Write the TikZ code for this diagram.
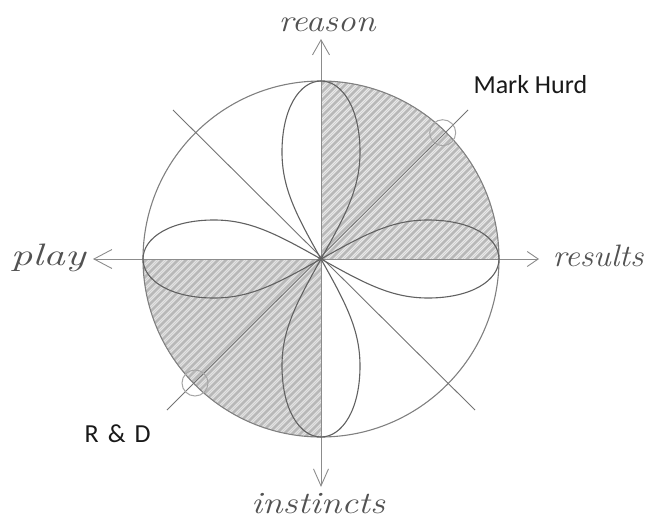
\documentclass[tikz,border=0pt]{standalone}
\usepackage{fontspec}
\newfontfamily\labelfont{Carlito}
\usetikzlibrary{arrows.meta}
\begin{document}
\begin{tikzpicture}[x=1pt,y=-1pt,
  ring/.style={draw=black!50,line width=1.1pt},
  axis/.style={draw=black!45,line width=0.9pt},
  diag/.style={draw=black!55,line width=0.9pt},
  petal/.style={draw=black!62,line width=1.1pt},
  marker/.style={draw=black!35,line width=1pt,circle,minimum size=26pt,inner sep=0pt},
  hand/.style={text=black!68,font=\fontsize{31}{33}\selectfont\itshape},
  tag/.style={text=black!90,font=\labelfont\fontsize{26}{28}\selectfont},
  hatchwide/.style={draw=black!28,line width=2.6pt},
  hatchthin/.style={draw=black!20,line width=0.7pt}]
\useasboundingbox (0,0) rectangle (649,522);
\coordinate (C) at (321,259);
\def\R{178}
% hatching, upper-right quadrant
\begin{scope}
  \clip (C) circle (\R);
  \clip (321,70) rectangle (510,259);
  \fill[black!8] (321,70) rectangle (510,259);
  \foreach \s in {398,406,...,770} \draw[hatchwide] (\s,0) -- (0,\s);
  \foreach \s in {402,410,...,770} \draw[hatchthin] (\s,0) -- (0,\s);
\end{scope}
% hatching, lower-left quadrant
\begin{scope}
  \clip (C) circle (\R);
  \clip (130,259) rectangle (321,450);
  \fill[black!10] (130,259) rectangle (321,450);
  \foreach \s in {398,406,...,770} \draw[hatchwide] (\s,0) -- (0,\s);
  \foreach \s in {402,410,...,770} \draw[hatchthin] (\s,0) -- (0,\s);
\end{scope}
% circle
\draw[ring] (C) circle (\R);
% axes
\coordinate (top) at (321,39);
\coordinate (bot) at (321,487);
\coordinate (lft) at (93,259);
\coordinate (rgt) at (539,259);
\draw[axis,{Straight Barb[length=15pt,width=17pt]}-{Straight Barb[length=17pt,width=15pt]}] (top) -- (bot);
\draw[axis,{Straight Barb[length=18pt,width=19pt]}-{Straight Barb[length=11pt,width=15pt]}] (lft) -- (rgt);
% diagonals
\coordinate (d1a) at (173,110);
\coordinate (d1b) at (475,410);
\coordinate (d2a) at (468,110);
\coordinate (d2b) at (167,410);
\draw[diag] (d1a) -- (d1b);
\draw[diag] (d2a) -- (d2b);
% petals
\foreach \a in {0,90,180,270}{
  \begin{scope}[shift={(C)},rotate=\a]
    \draw[petal] (0,0) .. controls (44.5,25) and (71,39) .. (107,39)
      .. controls (151,39) and (178,21) .. (178,0)
      .. controls (178,-21) and (151,-39) .. (107,-39)
      .. controls (71,-39) and (44.5,-25) .. (0,0);
  \end{scope}
}
% markers
\node[marker] (mh) at (442.7,132.7) {};
\node[marker] (rd) at (195,383) {};
% handwritten axis labels
\node[hand,anchor=base,xscale=1.15] (reason) at (327,31) {reason};
\node[hand,anchor=base,xscale=1.2] (instincts) at (318,513) {instincts};
\node[hand,anchor=base,xscale=1.4] (play) at (48,265) {play};
\node[hand,anchor=base,xscale=1.08] (results) at (598,266) {results};
% tags
\node[tag,anchor=base west] (mark) at (470,93.3) {Mark Hurd};
\node[tag,anchor=base west] (randd) at (81,442) {R\hspace{0.35em}\&\hspace{0.35em}D};
\end{tikzpicture}
\end{document}
